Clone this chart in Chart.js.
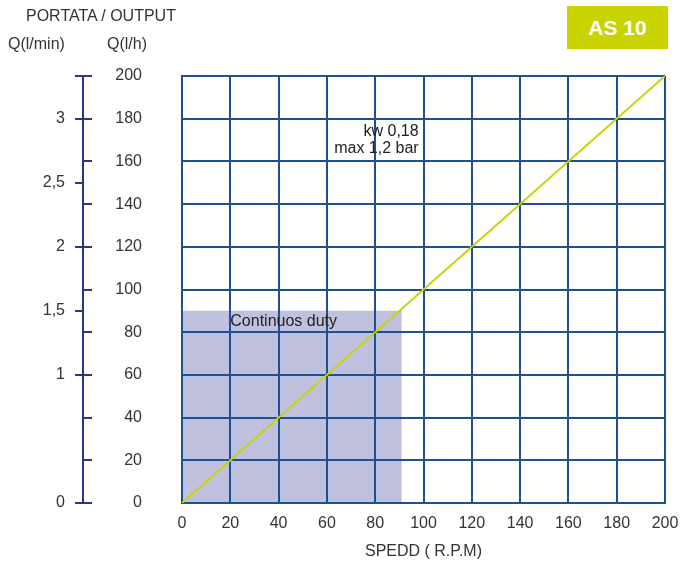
<!DOCTYPE html>
<html>
<head>
<meta charset="utf-8">
<script src="https://cdn.jsdelivr.net/npm/chart.js@4/dist/chart.umd.min.js"></script>
<style>
  html, body { margin: 0; padding: 0; background: #fff; }
  #wrap { position: relative; width: 680px; height: 564px; }
  canvas { position: absolute; left: 0; top: 0; }
  .lbl { position: absolute; font-family: "Liberation Sans", Arial, sans-serif; font-size: 16px; color: #333; white-space: nowrap; line-height: 1; }
  #badge { position: absolute; left: 567px; top: 6px; width: 101px; height: 43px; background: #c9d300;
           color: #fff; font-family: "Liberation Sans", Arial, sans-serif; font-weight: bold; font-size: 21px;
           display: flex; align-items: center; justify-content: center; }
</style>
</head>
<body>
<div id="wrap">
  <canvas id="c" width="680" height="564"></canvas>
  <div class="lbl" style="left:26px; top:8px;">PORTATA / OUTPUT</div>
  <div class="lbl" style="left:8px; top:36px;">Q(l/min)</div>
  <div class="lbl" style="left:107px; top:36px;">Q(l/h)</div>
  <div id="badge">AS 10</div>
</div>
<script>
// ---- data ----
const speedTicks = [0, 20, 40, 60, 80, 100, 120, 140, 160, 180, 200];   // x axis (R.P.M)
const outputTicksLh = [0, 20, 40, 60, 80, 100, 120, 140, 160, 180, 200]; // Q (l/h)
const outputTicksLmin = [0, 1, 1.5, 2, 2.5, 3];                         // Q (l/min)
const curveSpeed = [0, 200];
const curveOutput = [0, 200];
const dutySpeed = [0, 91];
const dutyOutput = [90, 90];
const dutyLabel = 'Continuos duty';
const dutyLabelPos = [20, 85];
const motorLabels = ['kw 0,18', 'max 1,2 bar'];
const motorLabelPos = [[98, 174], [98, 166]];
const xTitle = 'SPEDD ( R.P.M)';

const FONT = '"Liberation Sans", Arial, sans-serif';
const TXT = '#333';
const GRID = '#1d4f93';
const NAVY = '#2e3388';
const LIME = '#c9d300';

const curveData = curveSpeed.map((x, i) => ({ x, y: curveOutput[i] }));
const dutyData = dutySpeed.map((x, i) => ({ x, y: dutyOutput[i] }));

const extraPlugin = {
  id: 'extra',
  afterDraw(chart) {
    const ctx = chart.ctx;
    const y = chart.scales.y, yMin = chart.scales.yMin, x = chart.scales.x;
    // right-side minor ticks of the outer (navy) axis, at each l/h value
    ctx.save();
    ctx.strokeStyle = NAVY;
    ctx.lineWidth = 2;
    const ax = yMin.right;
    outputTicksLh.forEach(v => {
      const py = Math.round(y.getPixelForValue(v)) ;
      ctx.beginPath();
      ctx.moveTo(ax - 1, py);
      ctx.lineTo(ax + 9, py);
      ctx.stroke();
    });
    ctx.restore();
    // annotations
    ctx.save();
    ctx.fillStyle = '#222';
    ctx.font = '16px ' + FONT;
    ctx.textBaseline = 'middle';
    ctx.textAlign = 'right';
    motorLabels.forEach((t, i) => {
      ctx.fillText(t, x.getPixelForValue(motorLabelPos[i][0]), y.getPixelForValue(motorLabelPos[i][1]));
    });
    ctx.textAlign = 'left';
    ctx.fillText(dutyLabel, x.getPixelForValue(dutyLabelPos[0]), y.getPixelForValue(dutyLabelPos[1]));
    ctx.restore();
  }
};

new Chart(document.getElementById('c'), {
  type: 'line',
  data: {
    datasets: [
      {
        label: 'curve',
        data: curveData,
        borderColor: LIME,
        borderWidth: 2,
        pointRadius: 0,
        fill: false,
        order: 0
      },
      {
        label: 'duty',
        data: dutyData,
        borderWidth: 0,
        borderColor: 'rgba(0,0,0,0)',
        backgroundColor: '#bfc1de',
        pointRadius: 0,
        fill: 'origin',
        order: 1
      }
    ]
  },
  options: {
    responsive: false,
    animation: false,
    events: [],
    layout: { padding: { top: 76, right: 15, left: 0, bottom: 0 } },
    plugins: {
      legend: { display: false },
      tooltip: { enabled: false },
      filler: { drawTime: 'beforeDraw' }
    },
    scales: {
      x: {
        type: 'linear',
        min: 0, max: 200,
        afterBuildTicks: s => { s.ticks = speedTicks.map(v => ({ value: v })); },
        grid: { color: GRID, lineWidth: 2, drawTicks: false },
        border: { color: GRID, width: 2 },
        ticks: { color: TXT, font: { family: FONT, size: 16 }, padding: 11, maxRotation: 0 },
        title: { display: true, text: xTitle, color: TXT, font: { family: FONT, size: 16 }, padding: { top: 4, bottom: 3 } },
        afterFit: s => { s.height = 61; s.paddingLeft = 0; s.paddingRight = 0; }
      },
      y: {
        type: 'linear',
        position: 'left',
        weight: 0,
        min: 0, max: 200,
        afterBuildTicks: s => { s.ticks = outputTicksLh.map(v => ({ value: v })); },
        grid: { color: GRID, lineWidth: 2, drawTicks: false },
        border: { color: GRID, width: 2 },
        ticks: { color: TXT, font: { family: FONT, size: 16 }, padding: 40 },
        afterFit: s => { s.width = 99; s.paddingTop = 0; s.paddingBottom = 0; }
      },
      yMin: {
        type: 'linear',
        position: 'left',
        weight: 5,
        min: 0, max: 200 / 60,
        afterBuildTicks: s => { s.ticks = outputTicksLmin.concat([200 / 60]).map(v => ({ value: v })); },
        grid: { drawOnChartArea: false, color: NAVY, tickColor: NAVY, lineWidth: 2, tickLength: 8 },
        border: { color: NAVY, width: 2 },
        ticks: {
          color: TXT, font: { family: FONT, size: 16 }, padding: 10,
          callback: v => outputTicksLmin.includes(v) ? String(v).replace('.', ',') : ''
        },
        afterFit: s => { s.width = 83; s.paddingTop = 0; s.paddingBottom = 0; }
      }
    }
  },
  plugins: [extraPlugin]
});
</script>
</body>
</html>
